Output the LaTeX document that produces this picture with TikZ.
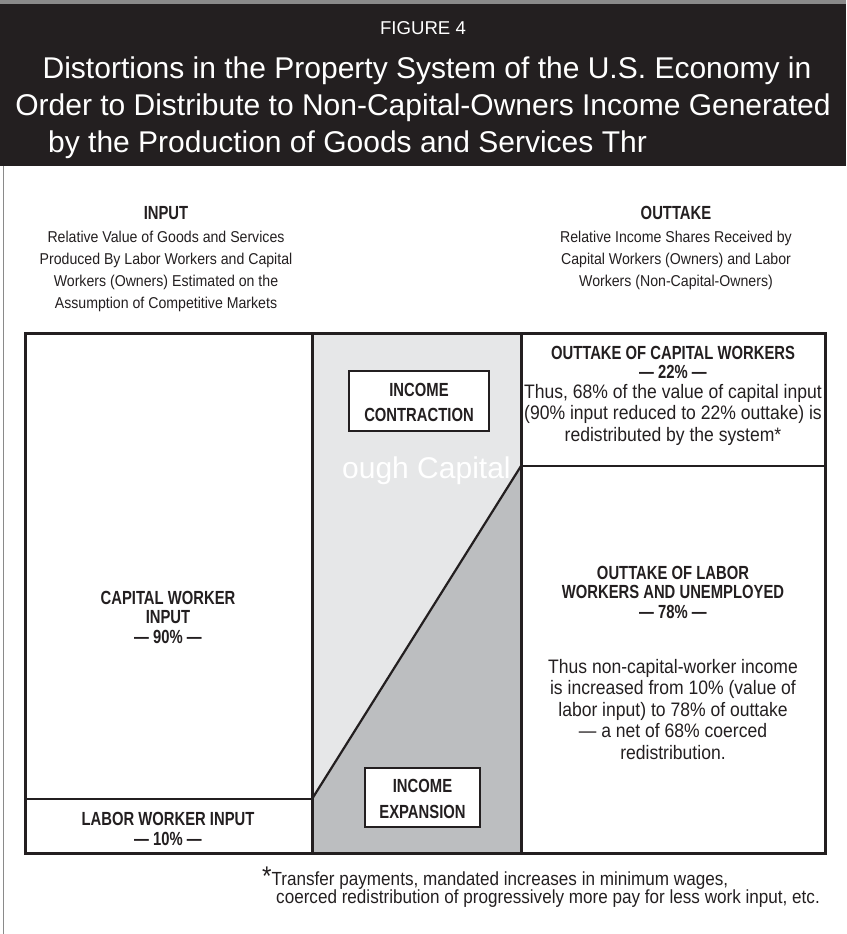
\documentclass[tikz,border=0pt]{standalone}
\usepackage{fontspec}
\setmainfont{Liberation Sans}
\newfontfamily\condreg{Liberation Sans}[FakeStretch=0.9]
\newfontfamily\condbold{Liberation Sans Bold}[FakeStretch=0.78]
\definecolor{ink}{HTML}{231F20}
\definecolor{lightfill}{HTML}{E6E7E8}
\definecolor{darkfill}{HTML}{BCBEC0}
\definecolor{edgegray}{HTML}{8A8A8A}
\begin{document}
\begin{tikzpicture}[x=1pt,y=-1pt,
  heavy/.style={draw=ink, line width=3pt},
  medium/.style={draw=ink, line width=2.2pt},
  boxlbl/.style={draw=ink, line width=1.1pt, fill=white, inner sep=0pt},
  figlbl/.style={text=white, inner sep=0pt, font=\fontsize{18.6}{20}\selectfont},
  titlelbl/.style={text=white, inner sep=0pt, font=\fontsize{30}{36}\selectfont},
  boldlbl/.style={text=ink, inner sep=0pt, align=center, font=\condbold\fontsize{19}{19.5}\selectfont},
  boxtxt/.style={text=ink, inner sep=0pt, align=center, font=\condbold\fontsize{19}{25.5}\selectfont},
  desclbl/.style={text=ink, inner sep=0pt, align=center, font=\condreg\fontsize{15.7}{22}\selectfont},
  bodylbl/.style={text=ink, inner sep=0pt, align=center, font=\condreg\fontsize{19.5}{21.5}\selectfont},
  footlbl/.style={text=ink, inner sep=0pt, align=left, font=\condreg\fontsize{19}{18}\selectfont}]
\useasboundingbox (0,0) rectangle (846,934);

% header band
\fill[edgegray] (0,0) rectangle (846,4);
\fill[ink] (0,4) rectangle (846,166);
\draw[edgegray, line width=1pt] (3,166) -- (3,934);

\node[figlbl, anchor=base] (fig) at (423,35) {FIGURE 4};
\node[titlelbl, anchor=base] (title1) at (427,78) {Distortions in the Property System of the U.S. Economy in};
\node[titlelbl, anchor=base] (title2) at (423,115) {Order to Distribute to Non-Capital-Owners Income Generated};
\node[titlelbl, anchor=base west] (title3) at (48,152) {by the Production of Goods and Services Thr};

% column headings (anchor base = baseline of last line)
\node[boldlbl, anchor=base] (inhead) at (166,219) {INPUT};
\node[desclbl, anchor=base] (indesc) at (166,308) {Relative Value of Goods and Services\\Produced By Labor Workers and Capital\\Workers (Owners) Estimated on the\\Assumption of Competitive Markets};
\node[boldlbl, anchor=base] (outhead) at (676,219) {OUTTAKE};
\node[desclbl, anchor=base] (outdesc) at (676,286) {Relative Income Shares Received by\\Capital Workers (Owners) and Labor\\Workers (Non-Capital-Owners)};

% key points of the chart
\coordinate (tl) at (25,333);
\coordinate (br) at (825,853);
\coordinate (dlow) at (312,799);
\coordinate (dhigh) at (521,466);

% middle column fills
\fill[lightfill] (312,333) rectangle (521,853);
\fill[darkfill] (dlow) -- (dhigh) -- (521,853) -- (312,853) -- cycle;

% white overflow text
\node[text=white, inner sep=0pt, anchor=base west, font=\fontsize{30}{36}\selectfont] (overflow) at (342,478) {ough Capital};

% frame lines
\draw[medium] (25,799) -- (dlow);
\draw[medium] (dhigh) -- (825,466);
\draw[medium] (dlow) -- (dhigh);
\draw[heavy] (312,333) -- (312,853);
\draw[heavy] (521,333) -- (521,853);
\draw[heavy] (tl) rectangle (br);

% inner boxes
\node[boxlbl, minimum width=140pt, minimum height=60pt] (contr) at (419,401) {};
\node[boxtxt, anchor=base] (contrtxt) at (419,421.5) {INCOME\\CONTRACTION};
\node[boxlbl, minimum width=115pt, minimum height=59pt] (expan) at (422.5,797.5) {};
\node[boxtxt, anchor=base] (expantxt) at (422.5,818) {INCOME\\EXPANSION};

% left column
\node[boldlbl, anchor=base] (capin) at (168,643) {CAPITAL WORKER\\INPUT\\— 90\% —};
\node[boldlbl, anchor=base] (labin) at (168,845) {LABOR WORKER INPUT\\— 10\% —};

% right column
\node[boldlbl, anchor=base] (capout) at (673,378.5) {OUTTAKE OF CAPITAL WORKERS\\— 22\% —};
\node[bodylbl, anchor=base] (capnote) at (673,441) {Thus, 68\% of the value of capital input\\(90\% input reduced to 22\% outtake) is\\redistributed by the system*};
\node[boldlbl, anchor=base] (labout) at (673,618) {OUTTAKE OF LABOR\\WORKERS AND UNEMPLOYED\\— 78\% —};
\node[bodylbl, anchor=base] (labnote) at (673,759) {Thus non-capital-worker income\\is increased from 10\% (value of\\labor input) to 78\% of outtake\\— a net of 68\% coerced\\redistribution.};

% footnote
\node[footlbl, anchor=base west] (foot) at (262,903) {{\fontsize{27}{27}\selectfont *}Transfer payments, mandated increases in minimum wages,\\\hspace*{14pt}coerced redistribution of progressively more pay for less work input, etc.};
\end{tikzpicture}
\end{document}
